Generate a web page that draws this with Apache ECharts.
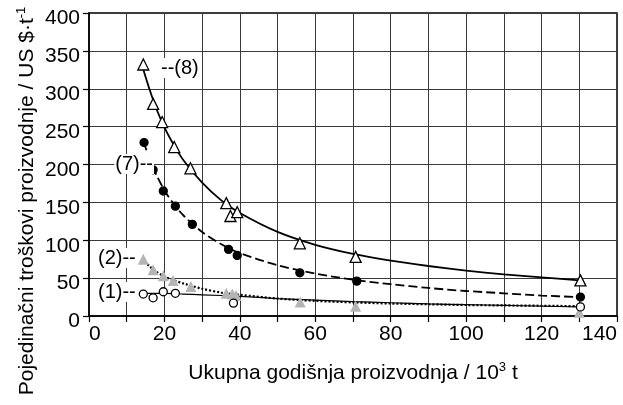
<!DOCTYPE html>
<html>
<head>
<meta charset="utf-8">
<script src="https://cdn.jsdelivr.net/npm/echarts@6/dist/echarts.min.js"></script>
<style>html,body{margin:0;padding:0;background:#fff;}#c{width:623px;height:405px;}</style>
</head>
<body>
<div id="c"></div>
<script>
// x ticks and y ticks
var xTicks = [0, 20, 40, 60, 80, 100, 120, 140];
var yTicks = [0, 50, 100, 150, 200, 250, 300, 350, 400];

// measured points [production 10^3 t, cost US$/t]
var pts8 = [[14.4,332],[17,280],[19.4,256],[22.6,223],[26.9,195],[36.4,149],[37.5,132],[39.3,137],[55.9,96],[70.7,78],[130.3,47]];
var pts7 = [[14.6,229],[17,193],[19.7,165],[22.9,145],[27.4,121],[37,88],[39.3,80],[55.9,57],[71,46],[130.3,25]];
var pts2 = [[14.4,75],[17,61],[19.7,53],[22.3,47],[27,39],[36.4,30],[38,29],[39,27],[56,18.5],[70.7,13],[130,5]];
var pts1 = [[14.4,29],[17,24],[19.7,32],[22.9,30],[38.3,17],[130.3,12]];

// fitted curves
var curve8 = [[14,332],[16,300],[18,272],[20,249],[22,230],[25,206],[30,176],[35,153],[40,136],[50,111],[60,94],[70,82],[80,73],[90,66],[100,60],[110,55],[120,51],[130,47]];
var curve7 = [[14.5,230],[16,208],[18,185],[20,166],[22,151],[25,133],[30,111],[35,95],[40,83],[50,67],[60,56],[70,48],[80,42],[90,37],[100,33],[110,30],[120,27],[130,25]];
var curve2 = [[14,76],[16,66],[18,58],[20,52],[22,48],[25,43],[30,36],[35,31],[40,28],[50,23],[60,20],[70,18],[80,16.5],[90,15.5],[100,14.5],[110,14],[120,13.5],[130,13]];
var curve1 = [[14,30],[20,30],[25,29],[30,28],[40,26],[50,23],[60,21],[70,19],[80,17.5],[90,16],[100,15],[110,14],[120,13],[130,12]];

var seriesLabels = ['--(8)', '(7)--', '(2)--', '(1)--'];

var FONT = '"Liberation Sans", Arial, Helvetica, sans-serif';
var chart = echarts.init(document.getElementById('c'), null, {renderer: 'canvas'});

function lineSeries(data, type, width) {
  return {type: 'line', data: data, smooth: 0.3, showSymbol: false, symbol: 'none',
    lineStyle: {color: '#000', width: width, type: type}, z: 2, silent: true};
}
function scatter(data, symbol, size, fill, border) {
  return {type: 'scatter', data: data, symbol: symbol, symbolSize: size,
    itemStyle: {color: fill, borderColor: border, borderWidth: border === 'none' ? 0 : 1.3, opacity: 1}, z: 5};
}

chart.setOption({
  animation: false,
  backgroundColor: '#fff',
  grid: {left: 89, right: 6, top: 13, bottom: 89, show: true, borderColor: '#000', borderWidth: 1.5, backgroundColor: 'transparent', containLabel: false, outerBoundsMode: 'none'},
  xAxis: {
    type: 'value', min: xTicks[0], max: xTicks[xTicks.length - 1], interval: 20,
    axisLine: {show: true, onZero: false, lineStyle: {color: '#000', width: 1.5}},
    axisTick: {show: true, inside: false, length: 6, lineStyle: {color: '#000', width: 1.2}},
    minorTick: {show: true, splitNumber: 2, length: 6, lineStyle: {color: '#000', width: 1.2}},
    splitLine: {show: true, lineStyle: {color: '#3a3a3a', width: 1}},
    minorSplitLine: {show: true, lineStyle: {color: '#3a3a3a', width: 1}},
    axisLabel: {fontSize: 21, fontFamily: FONT, color: '#000', margin: 8, alignMinLabel: 'left', alignMaxLabel: 'right'}
  },
  yAxis: {
    type: 'value', min: yTicks[0], max: yTicks[yTicks.length - 1], interval: 50,
    axisLine: {show: true, onZero: false, lineStyle: {color: '#000', width: 1.5}},
    axisTick: {show: true, inside: false, length: 6, lineStyle: {color: '#000', width: 1.2}},
    splitLine: {show: true, lineStyle: {color: '#3a3a3a', width: 1}},
    axisLabel: {fontSize: 21, fontFamily: FONT, color: '#000', margin: 9, verticalAlign: 'top', lineHeight: 11}
  },
  series: [
    lineSeries(curve8, 'solid', 1.8),
    lineSeries(curve7, [9, 4], 1.8),
    lineSeries(curve2, [2, 2], 2.2),
    lineSeries(curve1, 'solid', 1.2),
    scatter(pts2, 'triangle', 11, '#b4b4b4', 'none'),
    scatter(pts1, 'circle', 8, '#fff', '#000'),
    scatter(pts7, 'circle', 8, '#000', '#000'),
    scatter(pts8, 'triangle', 11, '#fff', '#000')
  ],
  graphic: [
    {type: 'text', x: 353, y: 373, z: 10, style: {
      text: '{a|Ukupna godišnja proizvodnja / 10}{s|3}{a| t}',
      textAlign: 'center', textVerticalAlign: 'middle',
      rich: {a: {fontSize: 21, fontFamily: FONT, fill: '#000', lineHeight: 24}, s: {fontSize: 13, fontFamily: FONT, fill: '#000', verticalAlign: 'top', lineHeight: 24}}
    }},
    {type: 'text', x: 27, y: 201, rotation: Math.PI / 2, z: 10, style: {
      text: '{a|Pojedinačni troškovi proizvodnje / US $·t}{s|-1}',
      textAlign: 'center', textVerticalAlign: 'middle',
      rich: {a: {fontSize: 21, fontFamily: FONT, fill: '#000', lineHeight: 24}, s: {fontSize: 13, fontFamily: FONT, fill: '#000', verticalAlign: 'top', lineHeight: 24}}
    }},
    {type: 'text', x: 160, y: 68, z: 10, style: {text: seriesLabels[0], font: '20px ' + FONT, fill: '#000', textAlign: 'left', textVerticalAlign: 'middle', backgroundColor: '#fff', padding: [0, 1]}},
    {type: 'text', x: 154, y: 164, z: 10, style: {text: seriesLabels[1], font: '20px ' + FONT, fill: '#000', textAlign: 'right', textVerticalAlign: 'middle', backgroundColor: '#fff', padding: [0, 1]}},
    {type: 'text', x: 97, y: 258, z: 10, style: {text: seriesLabels[2], font: '20px ' + FONT, fill: '#000', textAlign: 'left', textVerticalAlign: 'middle', backgroundColor: '#fff', padding: [0, 1]}},
    {type: 'text', x: 97, y: 292, z: 10, style: {text: seriesLabels[3], font: '20px ' + FONT, fill: '#000', textAlign: 'left', textVerticalAlign: 'middle', backgroundColor: '#fff', padding: [0, 1]}}
  ]
});
</script>
</body>
</html>
